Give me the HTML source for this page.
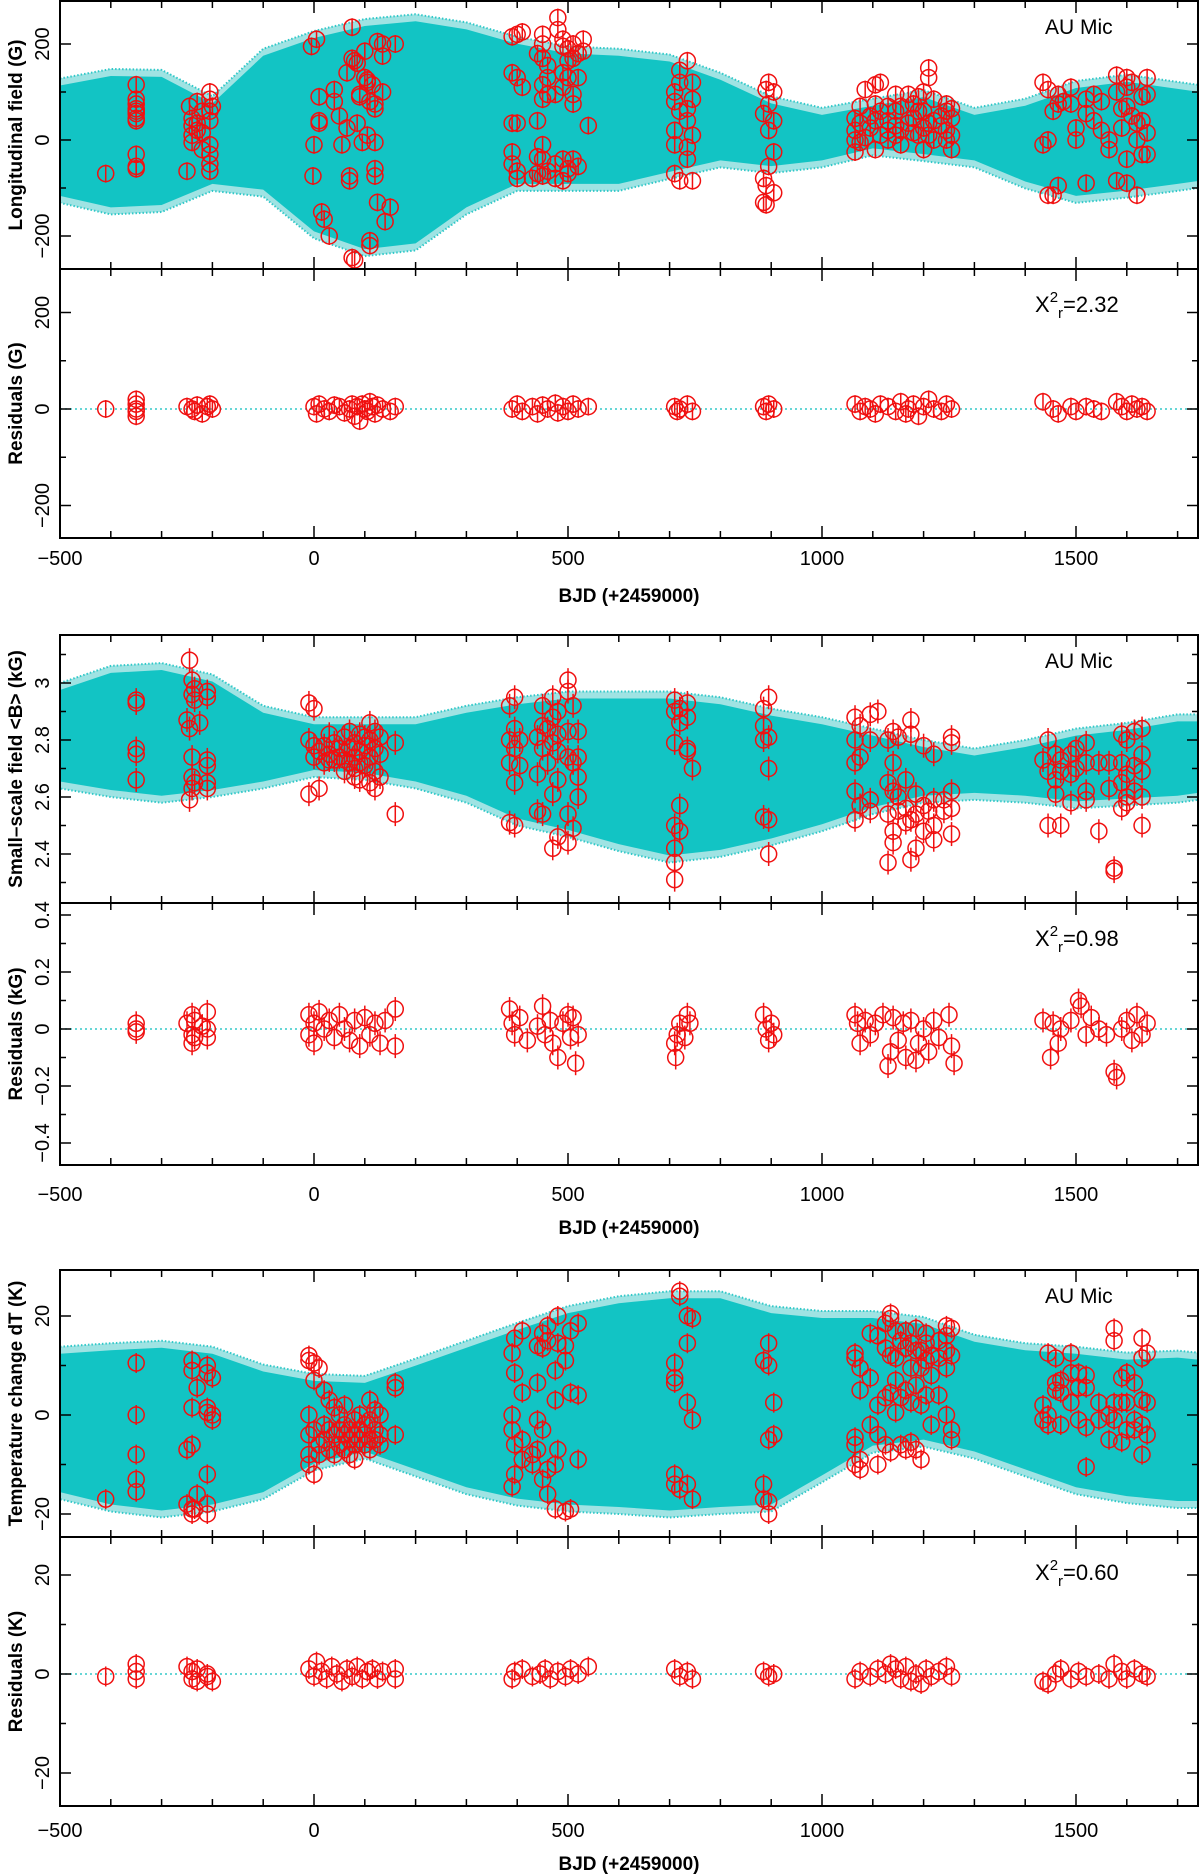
<!DOCTYPE html>
<html><head><meta charset="utf-8"><style>
html,body{margin:0;padding:0;background:#fff;}
svg{display:block;font-family:"Liberation Sans",sans-serif;}
</style></head><body>
<svg id="fig" width="1200" height="1876" viewBox="0 0 1200 1876" xmlns="http://www.w3.org/2000/svg"></svg>
<script>
// ---------- data ----------
const bandDays = [-500,-400,-300,-200,-100,0,100,200,300,400,500,600,700,800,900,1000,1100,1200,1300,1400,1500,1600,1700,1740];
const fieldUpper = [128,148,146,91,190,227,252,262,245,215,195,190,178,140,91,67,86,104,67,86,123,136,121,115];
const fieldLower = [-131,-155,-150,-106,-118,-205,-242,-230,-155,-106,-106,-106,-81,-57,-69,-57,-32,-44,-57,-101,-131,-120,-106,-100];
const bUpper = [3.0,3.06,3.07,3.03,2.92,2.88,2.88,2.88,2.92,2.95,2.97,2.97,2.97,2.95,2.91,2.88,2.84,2.80,2.77,2.80,2.84,2.86,2.89,2.89];
const bLower = [2.63,2.60,2.58,2.60,2.63,2.67,2.66,2.63,2.58,2.50,2.46,2.41,2.37,2.39,2.43,2.48,2.54,2.58,2.59,2.58,2.56,2.57,2.58,2.59];
const tUpper = [13.8,14.5,15,13.8,10.2,8.3,7.9,11.4,15,18.6,22,24,25,25,22,21,21,19.8,16.2,14.5,13.8,12.6,13,12.6];
const tLower = [-17,-19.5,-20.7,-19.5,-17,-11.2,-8.8,-12.4,-16,-18.3,-19.5,-20,-20.7,-20,-19.5,-13.6,-7.6,-6.4,-8.8,-12.4,-16,-17.8,-18.8,-18.8];

const fieldObs = [[-410,-70],[-350,115],[-350,85],[-350,75],[-350,65],[-350,60],[-350,55],[-350,45],[-350,40],[-350,-30],[-350,-55],[-350,-60],
[-250,-65],[-245,70],[-240,45],[-240,30],[-240,10],[-240,-5],[-230,80],[-230,35],[-230,20],[-220,60],[-220,15],[-220,-20],[-205,100],[-205,85],[-205,60],[-205,40],[-205,-10],[-205,-30],[-205,-50],[-205,-65],[-200,70],
[-5,195],[5,210],[0,-10],[10,90],[10,40],[10,35],[-2,-75],[15,-150],[20,-165],[30,-200],[40,105],[40,80],[50,50],[55,-10],[65,140],[65,25],[70,-75],[70,-85],[75,-245],[75,235],[75,170],[80,-250],[80,165],[85,160],[85,35],[90,95],[90,90],[95,-5],[100,185],[100,130],[105,125],[105,120],[105,10],[110,-210],[110,-220],[110,80],[115,115],[120,75],[120,65],[120,-5],[120,-60],[120,-75],[125,205],[125,-130],[135,200],[135,175],[135,100],[140,-170],[150,-140],[160,200],
[390,215],[390,140],[390,35],[390,-25],[390,-50],[400,220],[400,130],[400,35],[400,-80],[400,-65],[410,225],[410,110],[430,-80],[440,180],[440,40],[440,-35],[440,-70],[450,220],[450,200],[450,170],[450,115],[450,85],[450,-10],[450,-40],[450,-75],[460,155],[460,130],[460,95],[460,-65],[475,95],[475,-50],[475,-80],[480,255],[480,230],[490,210],[490,195],[490,140],[490,110],[490,-40],[490,-85],[500,190],[500,165],[500,130],[500,-70],[500,-60],[510,200],[510,170],[510,95],[510,75],[510,-40],[520,180],[520,130],[520,-55],[530,210],[530,185],[540,30],
[710,100],[710,80],[710,20],[710,-10],[710,-70],[720,145],[720,120],[720,60],[720,-85],[735,165],[735,65],[735,40],[735,-15],[735,-40],[745,120],[745,85],[745,10],[745,-85],
[885,55],[885,-80],[885,-130],[890,105],[890,-95],[890,-135],[895,120],[895,75],[895,20],[895,-55],[905,100],[905,40],[905,-25],[905,-110],
[1065,45],[1065,20],[1065,0],[1065,-25],[1075,70],[1075,35],[1075,-5],[1085,105],[1085,5],[1095,50],[1095,25],[1105,115],[1105,75],[1105,40],[1105,-20],[1115,120],[1115,60],[1115,10],[1130,70],[1130,40],[1130,20],[1130,0],[1145,95],[1145,60],[1145,30],[1145,10],[1155,70],[1155,20],[1155,-10],[1170,95],[1170,35],[1180,75],[1180,45],[1180,15],[1190,90],[1190,60],[1190,10],[1200,100],[1200,60],[1200,25],[1200,-20],[1210,150],[1210,130],[1210,35],[1210,10],[1220,85],[1220,40],[1220,0],[1235,50],[1235,30],[1245,75],[1245,60],[1245,20],[1245,0],[1255,65],[1255,45],[1255,10],[1255,-20],
[1435,120],[1435,-10],[1445,105],[1445,0],[1445,-115],[1455,60],[1455,-115],[1465,95],[1465,75],[1465,-95],[1475,80],[1490,110],[1490,75],[1500,25],[1500,0],[1520,85],[1520,55],[1520,-90],[1535,95],[1535,40],[1550,80],[1550,20],[1565,0],[1565,-20],[1580,135],[1580,100],[1580,-85],[1590,65],[1590,25],[1600,130],[1600,110],[1600,70],[1600,-40],[1600,-90],[1610,120],[1610,50],[1620,35],[1620,0],[1620,-115],[1630,90],[1630,40],[1630,-30],[1640,130],[1640,95],[1640,15],[1640,-30]];

const fieldRes = [[-410,0],[-350,20],[-350,10],[-350,0],[-350,-5],[-350,-15],[-250,5],[-240,0],[-235,-5],[-230,8],[-220,-10],[-210,5],[-205,10],[-200,0],[0,5],[5,-10],[10,10],[20,0],[30,-5],[40,8],[50,5],[60,-8],[70,0],[75,10],[80,-15],[85,5],[90,-25],[95,10],[100,0],[105,-5],[110,15],[115,5],[120,-10],[125,8],[135,0],[150,-5],[160,5],[390,0],[400,10],[410,-5],[430,5],[440,-10],[450,8],[460,0],[475,12],[480,-8],[490,5],[500,-5],[510,10],[520,0],[540,5],[710,5],[715,-5],[720,0],[735,10],[745,-5],[885,5],[890,-5],[895,10],[905,0],[1065,10],[1075,-5],[1085,5],[1095,0],[1105,-10],[1115,10],[1130,5],[1145,-5],[1155,15],[1165,-10],[1170,0],[1180,10],[1190,-15],[1200,5],[1210,20],[1220,0],[1235,-5],[1245,10],[1255,0],[1435,15],[1455,0],[1465,-10],[1490,5],[1500,-5],[1520,5],[1535,0],[1550,-5],[1580,15],[1590,5],[1600,-5],[1610,10],[1620,0],[1630,5],[1640,-5]];

const bObs = [[-350,2.94],[-350,2.93],[-350,2.77],[-350,2.75],[-350,2.66],[-250,2.87],[-245,3.08],[-245,2.84],[-245,2.59],[-240,3.01],[-240,2.96],[-240,2.74],[-240,2.67],[-240,2.63],[-235,2.98],[-235,2.94],[-235,2.65],[-225,2.86],[-210,2.97],[-210,2.95],[-210,2.73],[-210,2.71],[-210,2.65],[-210,2.63],
[-10,2.93],[-10,2.80],[-10,2.61],[0,2.91],[0,2.78],[0,2.74],[10,2.76],[10,2.63],[20,2.78],[20,2.72],[30,2.82],[30,2.75],[30,2.73],[40,2.79],[40,2.73],[50,2.77],[50,2.74],[60,2.81],[60,2.73],[60,2.69],[70,2.83],[70,2.77],[70,2.72],[80,2.79],[80,2.74],[80,2.70],[80,2.67],[90,2.82],[90,2.76],[90,2.72],[90,2.66],[100,2.81],[100,2.78],[100,2.71],[110,2.86],[110,2.80],[110,2.74],[110,2.65],[120,2.83],[120,2.77],[120,2.69],[120,2.63],[130,2.81],[130,2.75],[130,2.67],[160,2.79],[160,2.54],
[385,2.92],[385,2.80],[385,2.72],[385,2.51],[395,2.95],[395,2.84],[395,2.77],[395,2.65],[395,2.50],[405,2.80],[405,2.71],[440,2.81],[440,2.68],[440,2.55],[450,2.92],[450,2.85],[450,2.77],[450,2.54],[460,2.84],[460,2.72],[470,2.95],[470,2.88],[470,2.79],[470,2.61],[470,2.42],[480,2.90],[480,2.82],[480,2.76],[480,2.66],[480,2.46],[500,3.01],[500,2.97],[500,2.83],[500,2.74],[500,2.54],[500,2.44],[510,2.92],[510,2.72],[510,2.49],[520,2.83],[520,2.74],[520,2.67],[520,2.60],
[710,2.94],[710,2.90],[710,2.79],[710,2.50],[710,2.42],[710,2.37],[710,2.31],[720,2.91],[720,2.86],[720,2.57],[720,2.48],[735,2.93],[735,2.88],[735,2.77],[735,2.76],[745,2.70],
[885,2.91],[885,2.85],[885,2.80],[885,2.53],[895,2.95],[895,2.81],[895,2.70],[895,2.52],[895,2.40],
[1065,2.88],[1065,2.80],[1065,2.72],[1065,2.62],[1065,2.52],[1075,2.85],[1075,2.74],[1075,2.57],[1095,2.89],[1095,2.80],[1095,2.59],[1095,2.55],[1110,2.90],[1130,2.80],[1130,2.65],[1130,2.54],[1130,2.37],[1140,2.83],[1140,2.72],[1140,2.62],[1140,2.48],[1140,2.44],[1150,2.81],[1150,2.60],[1150,2.55],[1165,2.66],[1165,2.56],[1165,2.51],[1175,2.87],[1175,2.82],[1175,2.52],[1175,2.38],[1185,2.61],[1185,2.54],[1185,2.42],[1200,2.78],[1200,2.57],[1200,2.48],[1210,2.55],[1220,2.75],[1220,2.59],[1220,2.50],[1220,2.45],[1240,2.59],[1240,2.55],[1255,2.81],[1255,2.79],[1255,2.62],[1255,2.56],[1255,2.47],
[1435,2.73],[1445,2.80],[1445,2.69],[1445,2.50],[1460,2.75],[1460,2.66],[1460,2.61],[1470,2.73],[1470,2.69],[1470,2.50],[1490,2.75],[1490,2.68],[1490,2.58],[1500,2.77],[1500,2.70],[1520,2.79],[1520,2.72],[1520,2.62],[1520,2.59],[1545,2.72],[1545,2.48],[1565,2.72],[1565,2.63],[1575,2.34],[1575,2.35],[1590,2.82],[1590,2.72],[1590,2.65],[1590,2.56],[1600,2.80],[1600,2.68],[1600,2.60],[1600,2.58],[1615,2.83],[1615,2.71],[1615,2.62],[1630,2.84],[1630,2.75],[1630,2.69],[1630,2.60],[1630,2.50]];

const bRes = [[-350,0.02],[-350,0],[-350,-0.01],[-250,0.02],[-240,0.05],[-240,-0.02],[-240,-0.05],[-235,0.03],[-235,-0.03],[-220,0.01],[-210,0.06],[-210,0],[-210,-0.03],[-10,0.05],[-10,-0.02],[0,0.02],[0,-0.05],[10,0.06],[20,0],[30,0.03],[40,-0.03],[50,0.05],[60,0],[70,-0.04],[80,0.03],[90,-0.06],[100,0.04],[110,-0.02],[120,0.02],[130,-0.05],[140,0.03],[160,0.07],[160,-0.06],[385,0.07],[390,0.02],[395,-0.02],[405,0.04],[420,-0.04],[440,0.01],[450,0.08],[455,-0.02],[465,0.03],[470,-0.05],[480,-0.1],[490,0.02],[500,0.05],[505,-0.03],[510,0.04],[515,-0.12],[520,-0.02],[710,-0.05],[712,-0.1],[715,-0.02],[720,0.02],[730,-0.03],[735,0.05],[740,0.02],[885,0.05],[890,0],[895,-0.04],[900,0.02],[905,-0.02],[1065,0.05],[1070,0.02],[1075,-0.05],[1085,0.03],[1095,-0.02],[1105,0.02],[1120,0.05],[1130,-0.13],[1135,-0.08],[1140,0.04],[1150,-0.04],[1160,0.02],[1165,-0.1],[1175,0.03],[1185,-0.11],[1190,-0.05],[1200,0],[1210,-0.08],[1220,0.03],[1230,-0.03],[1250,0.05],[1255,-0.06],[1260,-0.12],[1435,0.03],[1450,-0.1],[1455,0.02],[1465,-0.05],[1470,0],[1490,0.03],[1505,0.1],[1510,0.08],[1520,-0.02],[1530,0.04],[1545,0],[1560,-0.02],[1575,-0.15],[1580,-0.17],[1590,0],[1600,0.03],[1610,-0.04],[1620,0.05],[1630,-0.02],[1640,0.02]];

const tObs = [[-410,-17],[-350,10.5],[-350,0],[-350,-8],[-350,-13],[-350,-15.5],[-250,-7],[-250,-18],[-240,11],[-240,9],[-240,1.5],[-240,-6],[-240,-19],[-240,-20],[-235,-19],[-230,5.5],[-230,-16],[-210,10],[-210,8.5],[-210,1.5],[-210,0.5],[-210,-12],[-210,-18],[-210,-20],[-200,7.5],[-200,0],[-200,-1],
[-10,12],[-10,11],[-10,0],[-10,-4],[-10,-8],[-10,-10],[0,10.5],[0,7],[0,-3],[0,-12],[10,9.5],[10,-6],[10,-8],[20,5],[20,-2],[20,-5],[30,3],[30,-3],[30,-7],[40,1.5],[40,-4],[40,-8],[50,0],[50,-3],[50,-6],[60,2],[60,-2],[60,-4],[60,-7],[70,-3],[70,-5],[70,-8],[80,-1],[80,-4],[80,-6],[80,-9],[90,0],[90,-3],[90,-5],[100,-2],[100,-6],[100,-4],[110,3],[110,-1],[110,-5],[110,-7],[120,1],[120,-3],[120,-5],[130,0],[130,-4],[130,-6],[160,6.5],[160,5.5],[160,-4],
[390,12.5],[390,0],[390,-3],[390,-14.5],[395,15.5],[395,8.5],[395,-6],[395,-12],[410,17],[410,4.5],[410,-5],[410,-9],[430,-8],[430,-10],[440,14],[440,6.5],[440,-1],[440,-7],[450,16.5],[450,13.5],[450,-3],[450,-13],[460,18],[460,15],[460,-11],[460,-16],[475,9],[475,3],[475,-10],[475,-19],[480,20],[480,14.5],[480,-7],[495,14],[495,11],[495,-19.5],[505,17],[505,4.5],[505,-19],[520,18.5],[520,4],[520,-9],
[710,7.5],[710,6.5],[710,10.5],[710,-12],[710,-14],[720,25],[720,24],[720,-15],[735,20],[735,14.5],[735,2.5],[735,-14],[745,19.5],[745,-1],[745,-17],
[885,11],[885,-14],[885,-17],[895,14.5],[895,10],[895,-5],[895,-17.5],[895,-20],[905,2.5],[905,-4],
[1065,12.5],[1065,11.5],[1065,-4.5],[1065,-6],[1065,-10],[1075,9.5],[1075,5],[1075,-9],[1075,-11],[1095,16.5],[1095,7.5],[1095,-2],[1110,16],[1110,2],[1110,-4],[1110,-10],[1125,18.5],[1125,13.5],[1125,3.5],[1125,-6],[1135,20.5],[1135,19.5],[1135,12],[1135,4.5],[1135,-7.5],[1145,17],[1145,11.5],[1145,7],[1145,0.5],[1155,15],[1155,3.5],[1155,-6],[1165,17],[1165,13.5],[1165,5],[1165,-7],[1175,14.5],[1175,9.5],[1175,2.5],[1175,-5.5],[1185,17.5],[1185,13],[1185,6],[1185,-7],[1195,13],[1195,9.5],[1195,2],[1195,-9],[1205,16.5],[1205,14.5],[1205,11],[1205,4],[1215,12],[1215,8],[1215,-2],[1230,15],[1230,11.5],[1230,4],[1245,18],[1245,16],[1245,13],[1245,9.5],[1245,0],[1255,17.5],[1255,12],[1255,-3],[1255,-5],
[1435,2],[1435,-1],[1445,12.5],[1445,0],[1445,-2],[1460,11.5],[1460,6.5],[1460,5],[1470,7],[1470,4.5],[1470,-2],[1490,12.5],[1490,8.5],[1490,2.5],[1505,8.5],[1505,5.5],[1505,-1],[1520,8],[1520,5.5],[1520,-2.5],[1520,-10.5],[1545,2.5],[1545,-1],[1565,0],[1565,-5],[1575,17.5],[1575,15],[1575,2.5],[1575,-1],[1590,7.5],[1590,2.5],[1590,-5.5],[1600,8.5],[1600,2.5],[1600,-3],[1615,6.5],[1615,-1],[1615,-3],[1630,15.5],[1630,11.5],[1630,3],[1630,-2],[1630,-8],[1640,12.5],[1640,2.5],[1640,-4]];

const tRes = [[-410,-0.5],[-350,2],[-350,0.5],[-350,-1],[-250,1.5],[-240,0.5],[-240,-1],[-230,1],[-230,-1.5],[-210,0],[-210,-0.5],[-200,-1.5],[-10,1],[0,-0.5],[5,2.5],[15,0.5],[25,-1],[35,1.5],[45,0],[55,-1.5],[65,1],[75,-0.5],[85,1.5],[95,-1],[105,0.5],[115,1],[125,-1],[135,0.5],[160,1],[160,-1],[390,-1],[395,0.5],[410,1],[430,-0.5],[445,0],[455,1],[465,-1],[480,0.5],[495,-0.5],[505,1],[520,0],[540,1.5],[710,1],[720,-0.5],[735,0.5],[745,-1],[885,0.5],[895,-0.5],[905,0],[1065,-1],[1075,0.5],[1095,-0.5],[1110,1],[1125,0],[1135,2],[1145,1],[1155,-1],[1165,1.5],[1175,-1.5],[1185,0],[1195,-2],[1205,1],[1215,-0.5],[1230,0.5],[1245,1.5],[1255,-0.5],[1435,-1.5],[1445,-2],[1460,0],[1470,1],[1490,-1],[1505,0.5],[1520,-0.5],[1545,0],[1565,-1],[1575,2],[1590,0.5],[1600,-1],[1615,1],[1630,0],[1640,-0.5]];

const xTickLabels = [-500,0,500,1000,1500];
const chiLabels = ["2.32","0.98","0.60"];

// ---------- drawing ----------
const NS = "http://www.w3.org/2000/svg";
const svg = document.getElementById('fig');
const X0 = 60, X1 = 1198;
function xs(d){ return 314 + 0.508*d; }
function mk(tag, attrs, parent){
  const e = document.createElementNS(NS, tag);
  for (const k in attrs) e.setAttribute(k, attrs[k]);
  (parent||svg).appendChild(e);
  return e;
}
function panel(o){
  const g = mk('g', {});
  
  
  const ys = v => o.y0 - o.k*(v - o.ref);
  const cid = 'clip-' + o.name;
  const cp = mk('clipPath', {id: cid}, g);
  mk('rect', {x: X0, y: o.top, width: X1-X0, height: o.bot-o.top}, cp);
  const inner = mk('g', {'clip-path': 'url(#'+cid+')'}, g);
  if (o.upper){
    let pts = [], pin = [];
    const th = o.th;
    for (let i=0;i<bandDays.length;i++) pts.push(xs(bandDays[i])+','+ys(o.upper[i]));
    for (let i=bandDays.length-1;i>=0;i--) pts.push(xs(bandDays[i])+','+ys(o.lower[i]));
    for (let i=0;i<bandDays.length;i++) pin.push(xs(bandDays[i])+','+(ys(o.upper[i])+th));
    for (let i=bandDays.length-1;i>=0;i--) pin.push(xs(bandDays[i])+','+(ys(o.lower[i])-th));
    const outer = mk('polygon', {points: pts.join(' '), fill: '#9fe3e3', stroke: '#30c8c8', 'stroke-width': 2, 'stroke-dasharray': '1.5,2'}, inner);
    
    
    const core = mk('polygon', {points: pin.join(' '), fill: '#12c4c4'}, inner);
    
    
  }
  if (o.zero){
    const zl = mk('line', {x1: X0, x2: X1, y1: ys(0), y2: ys(0), stroke: '#33c8c8', 'stroke-width': 1.5, 'stroke-dasharray': '2,3'}, inner);
    
    
  }
  for (const p of o.data){
    const cx = xs(p[0]), cy = ys(p[1]);
    const pg = mk('g', {stroke: '#f01010', fill: 'none', 'stroke-width': 1.5}, inner);
    
    
    mk('line', {x1: cx, x2: cx, y1: cy - o.err, y2: cy + o.err}, pg);
    mk('circle', {cx: cx, cy: cy, r: 8}, pg);
  }
  // frame
  const fr = mk('rect', {x: X0, y: o.top, width: X1-X0, height: o.bot-o.top, fill: 'none', stroke: '#000', 'stroke-width': 2}, g);
  
  
  // x ticks
  for (let d=-400; d<=1700; d+=100){
    const L = (d%500===0) ? 12 : 7;
    mk('line', {x1: xs(d), x2: xs(d), y1: o.bot, y2: o.bot-L, stroke: '#000', 'stroke-width': 1.5}, g);
    mk('line', {x1: xs(d), x2: xs(d), y1: o.top, y2: o.top+L, stroke: '#000', 'stroke-width': 1.5}, g);
  }
  // y ticks
  for (const t of o.minor){
    const yy = ys(t);
    if (yy < o.top+2 || yy > o.bot-2) continue;
    const major = o.labels.some(l => Math.abs(l-t) < 1e-9);
    const L = major ? 11 : 6;
    mk('line', {x1: X0, x2: X0+L, y1: yy, y2: yy, stroke: '#000', 'stroke-width': 1.5}, g);
    mk('line', {x1: X1, x2: X1-L, y1: yy, y2: yy, stroke: '#000', 'stroke-width': 1.5}, g);
  }
  for (const t of o.labels){
    const yy = ys(t);
    const tx = mk('text', {x: 0, y: 0, transform: 'translate(49,'+yy+') rotate(-90)', 'text-anchor': 'middle', 'font-size': 20, fill: '#000'}, g);
    
    
    tx.textContent = String(t).replace('-', '\u2212');
  }
  const yt = mk('text', {x: 0, y: 0, transform: 'translate(22,'+((o.top+o.bot)/2)+') rotate(-90)', 'text-anchor': 'middle', 'font-size': 19, 'font-weight': 'bold', fill: '#000'}, g);
  
  
  yt.textContent = o.title;
  if (o.star){
    const s = mk('text', {x: 1045, y: o.top+33, 'font-size': 21, fill: '#000'}, g);
    
    
    s.textContent = 'AU  Mic';
  }
  if (o.chi){
    const c = mk('text', {x: 1035, y: o.top+43, 'font-size': 22, fill: '#000'}, g);
    
    
    c.innerHTML = 'X<tspan dy="-10" font-size="15">2</tspan><tspan dy="16" font-size="15">r</tspan><tspan dy="-6">=' + o.chi + '</tspan>';
  }
  return ys;
}
function xaxisLabels(y, ty){
  for (const v of xTickLabels){
    const t = mk('text', {x: xs(v), y: y, 'text-anchor': 'middle', 'font-size': 20, fill: '#000'});
    
    
    t.textContent = String(v).replace('-', '\u2212');
  }
  const t = mk('text', {x: 629, y: ty, 'text-anchor': 'middle', 'font-size': 19, 'font-weight': 'bold', fill: '#000'});
  
  
  t.textContent = 'BJD (+2459000)';
}
function range(a,b,s){ const r=[]; for(let v=a; v<=b+1e-9; v+=s) r.push(Math.round(v*1000)/1000); return r; }

panel({name:'longitudinal-field-panel', top:1, bot:269, y0:140, k:0.48, ref:0, upper:fieldUpper, lower:fieldLower, th:7, data:fieldObs, err:9, minor:range(-300,300,100), labels:[-200,0,200], title:'Longitudinal field (G)', star:true});
panel({name:'field-residuals-panel', top:269, bot:538, y0:409, k:0.4825, ref:0, zero:true, data:fieldRes, err:9, minor:range(-300,300,100), labels:[-200,0,200], title:'Residuals (G)', chi:chiLabels[0]});
xaxisLabels(565, 602);
panel({name:'small-scale-field-panel', top:635, bot:903, y0:740, k:285, ref:2.8, upper:bUpper, lower:bLower, th:7, data:bObs, err:12, minor:range(2.2,3.2,0.1), labels:[2.4,2.6,2.8,3], title:'Small\u2013scale field <B> (kG)', star:true});
panel({name:'small-scale-residuals-panel', top:903, bot:1165, y0:1029, k:285, ref:0, zero:true, data:bRes, err:12, minor:range(-0.5,0.5,0.1), labels:[-0.4,-0.2,0,0.2,0.4], title:'Residuals (kG)', chi:chiLabels[1]});
xaxisLabels(1201, 1234);
panel({name:'temperature-panel', top:1270, bot:1537, y0:1415, k:4.95, ref:0, upper:tUpper, lower:tLower, th:7, data:tObs, err:10, minor:range(-30,30,10), labels:[-20,0,20], title:'Temperature change dT (K)', star:true});
panel({name:'temperature-residuals-panel', top:1537, bot:1806, y0:1674, k:4.95, ref:0, zero:true, data:tRes, err:10, minor:range(-30,30,10), labels:[-20,0,20], title:'Residuals (K)', chi:chiLabels[2]});
xaxisLabels(1837, 1870);
</script>
</body></html>
